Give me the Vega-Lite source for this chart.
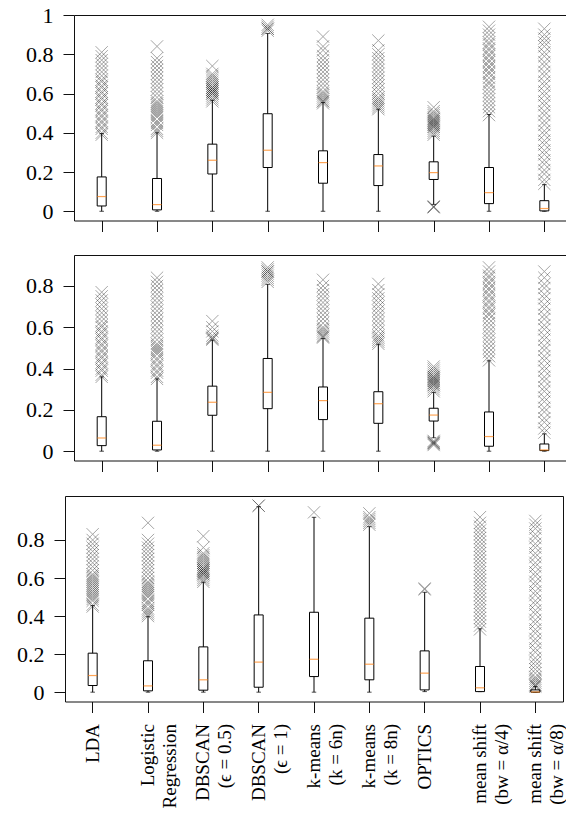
{
"$schema":"https://vega.github.io/schema/vega-lite/v6.json",
"padding":{"top":4,"left":16,"right":0,"bottom":0},
"spacing":23,
"datasets":{
"box":[
{"p":1,"m":"LDA","lo":0,"q1":0.027,"med":0.075,"q3":0.175,"hi":0.396},
{"p":1,"m":"LR","lo":0,"q1":0.007,"med":0.034,"q3":0.167,"hi":0.40},
{"p":1,"m":"DB05","lo":0,"q1":0.19,"med":0.26,"q3":0.342,"hi":0.566},
{"p":1,"m":"DB1","lo":0,"q1":0.223,"med":0.311,"q3":0.497,"hi":0.906},
{"p":1,"m":"KM6","lo":0,"q1":0.143,"med":0.248,"q3":0.308,"hi":0.554},
{"p":1,"m":"KM8","lo":0,"q1":0.131,"med":0.231,"q3":0.289,"hi":0.52},
{"p":1,"m":"OPT","lo":0.035,"q1":0.162,"med":0.197,"q3":0.252,"hi":0.383},
{"p":1,"m":"MS4","lo":0,"q1":0.039,"med":0.095,"q3":0.223,"hi":0.493},
{"p":1,"m":"MS8","lo":0,"q1":0.002,"med":0.014,"q3":0.054,"hi":0.136},
{"p":2,"m":"LDA","lo":0,"q1":0.027,"med":0.064,"q3":0.167,"hi":0.36},
{"p":2,"m":"LR","lo":0,"q1":0.006,"med":0.029,"q3":0.145,"hi":0.35},
{"p":2,"m":"DB05","lo":0,"q1":0.174,"med":0.237,"q3":0.315,"hi":0.538},
{"p":2,"m":"DB1","lo":0,"q1":0.206,"med":0.285,"q3":0.449,"hi":0.808},
{"p":2,"m":"KM6","lo":0,"q1":0.153,"med":0.245,"q3":0.311,"hi":0.546},
{"p":2,"m":"KM8","lo":0,"q1":0.135,"med":0.23,"q3":0.288,"hi":0.518},
{"p":2,"m":"OPT","lo":0.065,"q1":0.146,"med":0.175,"q3":0.208,"hi":0.285},
{"p":2,"m":"MS4","lo":0,"q1":0.024,"med":0.071,"q3":0.19,"hi":0.438},
{"p":2,"m":"MS8","lo":0,"q1":0.003,"med":0.006,"q3":0.035,"hi":0.084},
{"p":3,"m":"LDA","lo":0,"q1":0.035,"med":0.0875,"q3":0.205,"hi":0.455},
{"p":3,"m":"LR","lo":0,"q1":0.007,"med":0.033,"q3":0.165,"hi":0.397},
{"p":3,"m":"DB05","lo":0,"q1":0.0105,"med":0.065,"q3":0.238,"hi":0.578},
{"p":3,"m":"DB1","lo":0,"q1":0.026,"med":0.158,"q3":0.406,"hi":0.975},
{"p":3,"m":"KM6","lo":0,"q1":0.082,"med":0.173,"q3":0.42,"hi":0.919},
{"p":3,"m":"KM8","lo":0,"q1":0.065,"med":0.147,"q3":0.389,"hi":0.87},
{"p":3,"m":"OPT","lo":0.003,"q1":0.012,"med":0.1,"q3":0.217,"hi":0.525},
{"p":3,"m":"MS4","lo":0.003,"q1":0.003,"med":0.023,"q3":0.135,"hi":0.333},
{"p":3,"m":"MS8","lo":0,"q1":0,"med":0.001,"q3":0.012,"hi":0.03}
],
"out":[
{"p":1,"m":"LDA","v":0.39},{"p":1,"m":"LDA","v":0.40},{"p":1,"m":"LDA","v":0.42},{"p":1,"m":"LDA","v":0.43},{"p":1,"m":"LDA","v":0.45},{"p":1,"m":"LDA","v":0.46},{"p":1,"m":"LDA","v":0.48},{"p":1,"m":"LDA","v":0.49},{"p":1,"m":"LDA","v":0.51},{"p":1,"m":"LDA","v":0.52},{"p":1,"m":"LDA","v":0.54},{"p":1,"m":"LDA","v":0.55},{"p":1,"m":"LDA","v":0.57},{"p":1,"m":"LDA","v":0.58},{"p":1,"m":"LDA","v":0.60},{"p":1,"m":"LDA","v":0.61},{"p":1,"m":"LDA","v":0.63},{"p":1,"m":"LDA","v":0.64},{"p":1,"m":"LDA","v":0.66},{"p":1,"m":"LDA","v":0.67},{"p":1,"m":"LDA","v":0.69},{"p":1,"m":"LDA","v":0.71},{"p":1,"m":"LDA","v":0.73},{"p":1,"m":"LDA","v":0.75},{"p":1,"m":"LDA","v":0.77},{"p":1,"m":"LDA","v":0.79},{"p":1,"m":"LDA","v":0.81},
{"p":1,"m":"LR","v":0.40},{"p":1,"m":"LR","v":0.41},{"p":1,"m":"LR","v":0.42},{"p":1,"m":"LR","v":0.44},{"p":1,"m":"LR","v":0.45},{"p":1,"m":"LR","v":0.46},{"p":1,"m":"LR","v":0.48},{"p":1,"m":"LR","v":0.49},{"p":1,"m":"LR","v":0.50},{"p":1,"m":"LR","v":0.51},{"p":1,"m":"LR","v":0.52},{"p":1,"m":"LR","v":0.53},{"p":1,"m":"LR","v":0.54},{"p":1,"m":"LR","v":0.55},{"p":1,"m":"LR","v":0.56},{"p":1,"m":"LR","v":0.58},{"p":1,"m":"LR","v":0.60},{"p":1,"m":"LR","v":0.62},{"p":1,"m":"LR","v":0.64},{"p":1,"m":"LR","v":0.66},{"p":1,"m":"LR","v":0.68},{"p":1,"m":"LR","v":0.70},{"p":1,"m":"LR","v":0.72},{"p":1,"m":"LR","v":0.74},{"p":1,"m":"LR","v":0.76},{"p":1,"m":"LR","v":0.78},{"p":1,"m":"LR","v":0.84},
{"p":1,"m":"DB05","v":0.56},{"p":1,"m":"DB05","v":0.57},{"p":1,"m":"DB05","v":0.58},{"p":1,"m":"DB05","v":0.59},{"p":1,"m":"DB05","v":0.60},{"p":1,"m":"DB05","v":0.60},{"p":1,"m":"DB05","v":0.61},{"p":1,"m":"DB05","v":0.61},{"p":1,"m":"DB05","v":0.62},{"p":1,"m":"DB05","v":0.62},{"p":1,"m":"DB05","v":0.63},{"p":1,"m":"DB05","v":0.63},{"p":1,"m":"DB05","v":0.64},{"p":1,"m":"DB05","v":0.65},{"p":1,"m":"DB05","v":0.66},{"p":1,"m":"DB05","v":0.67},{"p":1,"m":"DB05","v":0.68},{"p":1,"m":"DB05","v":0.69},{"p":1,"m":"DB05","v":0.70},{"p":1,"m":"DB05","v":0.74},
{"p":1,"m":"DB1","v":0.92},{"p":1,"m":"DB1","v":0.93},{"p":1,"m":"DB1","v":0.93},{"p":1,"m":"DB1","v":0.94},{"p":1,"m":"DB1","v":0.95},
{"p":1,"m":"KM6","v":0.55},{"p":1,"m":"KM6","v":0.56},{"p":1,"m":"KM6","v":0.56},{"p":1,"m":"KM6","v":0.57},{"p":1,"m":"KM6","v":0.58},{"p":1,"m":"KM6","v":0.59},{"p":1,"m":"KM6","v":0.60},{"p":1,"m":"KM6","v":0.61},{"p":1,"m":"KM6","v":0.63},{"p":1,"m":"KM6","v":0.65},{"p":1,"m":"KM6","v":0.67},{"p":1,"m":"KM6","v":0.69},{"p":1,"m":"KM6","v":0.71},{"p":1,"m":"KM6","v":0.73},{"p":1,"m":"KM6","v":0.75},{"p":1,"m":"KM6","v":0.77},{"p":1,"m":"KM6","v":0.79},{"p":1,"m":"KM6","v":0.82},{"p":1,"m":"KM6","v":0.84},{"p":1,"m":"KM6","v":0.89},
{"p":1,"m":"KM8","v":0.52},{"p":1,"m":"KM8","v":0.53},{"p":1,"m":"KM8","v":0.54},{"p":1,"m":"KM8","v":0.55},{"p":1,"m":"KM8","v":0.56},{"p":1,"m":"KM8","v":0.57},{"p":1,"m":"KM8","v":0.58},{"p":1,"m":"KM8","v":0.60},{"p":1,"m":"KM8","v":0.62},{"p":1,"m":"KM8","v":0.64},{"p":1,"m":"KM8","v":0.66},{"p":1,"m":"KM8","v":0.68},{"p":1,"m":"KM8","v":0.70},{"p":1,"m":"KM8","v":0.72},{"p":1,"m":"KM8","v":0.74},{"p":1,"m":"KM8","v":0.76},{"p":1,"m":"KM8","v":0.78},{"p":1,"m":"KM8","v":0.80},{"p":1,"m":"KM8","v":0.82},{"p":1,"m":"KM8","v":0.87},
{"p":1,"m":"OPT","v":0.39},{"p":1,"m":"OPT","v":0.40},{"p":1,"m":"OPT","v":0.41},{"p":1,"m":"OPT","v":0.42},{"p":1,"m":"OPT","v":0.43},{"p":1,"m":"OPT","v":0.43},{"p":1,"m":"OPT","v":0.44},{"p":1,"m":"OPT","v":0.44},{"p":1,"m":"OPT","v":0.45},{"p":1,"m":"OPT","v":0.45},{"p":1,"m":"OPT","v":0.46},{"p":1,"m":"OPT","v":0.46},{"p":1,"m":"OPT","v":0.47},{"p":1,"m":"OPT","v":0.47},{"p":1,"m":"OPT","v":0.48},{"p":1,"m":"OPT","v":0.49},{"p":1,"m":"OPT","v":0.50},{"p":1,"m":"OPT","v":0.51},{"p":1,"m":"OPT","v":0.53},{"p":1,"m":"OPT","v":0.022},{"p":1,"m":"OPT","v":0.025},{"p":1,"m":"OPT","v":0.02},
{"p":1,"m":"MS4","v":0.49},{"p":1,"m":"MS4","v":0.51},{"p":1,"m":"MS4","v":0.53},{"p":1,"m":"MS4","v":0.55},{"p":1,"m":"MS4","v":0.57},{"p":1,"m":"MS4","v":0.59},{"p":1,"m":"MS4","v":0.61},{"p":1,"m":"MS4","v":0.63},{"p":1,"m":"MS4","v":0.65},{"p":1,"m":"MS4","v":0.66},{"p":1,"m":"MS4","v":0.68},{"p":1,"m":"MS4","v":0.70},{"p":1,"m":"MS4","v":0.71},{"p":1,"m":"MS4","v":0.73},{"p":1,"m":"MS4","v":0.74},{"p":1,"m":"MS4","v":0.76},{"p":1,"m":"MS4","v":0.77},{"p":1,"m":"MS4","v":0.79},{"p":1,"m":"MS4","v":0.80},{"p":1,"m":"MS4","v":0.82},{"p":1,"m":"MS4","v":0.83},{"p":1,"m":"MS4","v":0.85},{"p":1,"m":"MS4","v":0.86},{"p":1,"m":"MS4","v":0.88},{"p":1,"m":"MS4","v":0.90},{"p":1,"m":"MS4","v":0.92},{"p":1,"m":"MS4","v":0.94},
{"p":1,"m":"MS8","v":0.14},{"p":1,"m":"MS8","v":0.16},{"p":1,"m":"MS8","v":0.19},{"p":1,"m":"MS8","v":0.21},{"p":1,"m":"MS8","v":0.24},{"p":1,"m":"MS8","v":0.26},{"p":1,"m":"MS8","v":0.29},{"p":1,"m":"MS8","v":0.31},{"p":1,"m":"MS8","v":0.34},{"p":1,"m":"MS8","v":0.36},{"p":1,"m":"MS8","v":0.39},{"p":1,"m":"MS8","v":0.41},{"p":1,"m":"MS8","v":0.44},{"p":1,"m":"MS8","v":0.46},{"p":1,"m":"MS8","v":0.49},{"p":1,"m":"MS8","v":0.51},{"p":1,"m":"MS8","v":0.54},{"p":1,"m":"MS8","v":0.56},{"p":1,"m":"MS8","v":0.59},{"p":1,"m":"MS8","v":0.61},{"p":1,"m":"MS8","v":0.64},{"p":1,"m":"MS8","v":0.66},{"p":1,"m":"MS8","v":0.69},{"p":1,"m":"MS8","v":0.71},{"p":1,"m":"MS8","v":0.74},{"p":1,"m":"MS8","v":0.76},{"p":1,"m":"MS8","v":0.79},{"p":1,"m":"MS8","v":0.81},{"p":1,"m":"MS8","v":0.84},{"p":1,"m":"MS8","v":0.86},{"p":1,"m":"MS8","v":0.88},{"p":1,"m":"MS8","v":0.90},{"p":1,"m":"MS8","v":0.93},
{"p":2,"m":"LDA","v":0.36},{"p":2,"m":"LDA","v":0.37},{"p":2,"m":"LDA","v":0.39},{"p":2,"m":"LDA","v":0.40},{"p":2,"m":"LDA","v":0.42},{"p":2,"m":"LDA","v":0.43},{"p":2,"m":"LDA","v":0.45},{"p":2,"m":"LDA","v":0.46},{"p":2,"m":"LDA","v":0.48},{"p":2,"m":"LDA","v":0.49},{"p":2,"m":"LDA","v":0.51},{"p":2,"m":"LDA","v":0.52},{"p":2,"m":"LDA","v":0.54},{"p":2,"m":"LDA","v":0.55},{"p":2,"m":"LDA","v":0.57},{"p":2,"m":"LDA","v":0.58},{"p":2,"m":"LDA","v":0.60},{"p":2,"m":"LDA","v":0.61},{"p":2,"m":"LDA","v":0.63},{"p":2,"m":"LDA","v":0.65},{"p":2,"m":"LDA","v":0.67},{"p":2,"m":"LDA","v":0.69},{"p":2,"m":"LDA","v":0.71},{"p":2,"m":"LDA","v":0.73},{"p":2,"m":"LDA","v":0.75},{"p":2,"m":"LDA","v":0.77},
{"p":2,"m":"LR","v":0.35},{"p":2,"m":"LR","v":0.36},{"p":2,"m":"LR","v":0.38},{"p":2,"m":"LR","v":0.39},{"p":2,"m":"LR","v":0.41},{"p":2,"m":"LR","v":0.42},{"p":2,"m":"LR","v":0.44},{"p":2,"m":"LR","v":0.45},{"p":2,"m":"LR","v":0.47},{"p":2,"m":"LR","v":0.48},{"p":2,"m":"LR","v":0.49},{"p":2,"m":"LR","v":0.50},{"p":2,"m":"LR","v":0.51},{"p":2,"m":"LR","v":0.52},{"p":2,"m":"LR","v":0.54},{"p":2,"m":"LR","v":0.56},{"p":2,"m":"LR","v":0.58},{"p":2,"m":"LR","v":0.60},{"p":2,"m":"LR","v":0.62},{"p":2,"m":"LR","v":0.64},{"p":2,"m":"LR","v":0.66},{"p":2,"m":"LR","v":0.68},{"p":2,"m":"LR","v":0.70},{"p":2,"m":"LR","v":0.72},{"p":2,"m":"LR","v":0.74},{"p":2,"m":"LR","v":0.76},{"p":2,"m":"LR","v":0.78},{"p":2,"m":"LR","v":0.80},{"p":2,"m":"LR","v":0.82},{"p":2,"m":"LR","v":0.84},
{"p":2,"m":"DB05","v":0.54},{"p":2,"m":"DB05","v":0.545},{"p":2,"m":"DB05","v":0.55},{"p":2,"m":"DB05","v":0.56},{"p":2,"m":"DB05","v":0.58},{"p":2,"m":"DB05","v":0.60},{"p":2,"m":"DB05","v":0.63},
{"p":2,"m":"DB1","v":0.82},{"p":2,"m":"DB1","v":0.83},{"p":2,"m":"DB1","v":0.84},{"p":2,"m":"DB1","v":0.85},{"p":2,"m":"DB1","v":0.86},{"p":2,"m":"DB1","v":0.87},{"p":2,"m":"DB1","v":0.87},{"p":2,"m":"DB1","v":0.88},{"p":2,"m":"DB1","v":0.89},
{"p":2,"m":"KM6","v":0.55},{"p":2,"m":"KM6","v":0.555},{"p":2,"m":"KM6","v":0.56},{"p":2,"m":"KM6","v":0.57},{"p":2,"m":"KM6","v":0.58},{"p":2,"m":"KM6","v":0.59},{"p":2,"m":"KM6","v":0.60},{"p":2,"m":"KM6","v":0.62},{"p":2,"m":"KM6","v":0.64},{"p":2,"m":"KM6","v":0.66},{"p":2,"m":"KM6","v":0.68},{"p":2,"m":"KM6","v":0.70},{"p":2,"m":"KM6","v":0.72},{"p":2,"m":"KM6","v":0.74},{"p":2,"m":"KM6","v":0.76},{"p":2,"m":"KM6","v":0.78},{"p":2,"m":"KM6","v":0.80},{"p":2,"m":"KM6","v":0.83},
{"p":2,"m":"KM8","v":0.52},{"p":2,"m":"KM8","v":0.53},{"p":2,"m":"KM8","v":0.54},{"p":2,"m":"KM8","v":0.55},{"p":2,"m":"KM8","v":0.56},{"p":2,"m":"KM8","v":0.58},{"p":2,"m":"KM8","v":0.60},{"p":2,"m":"KM8","v":0.62},{"p":2,"m":"KM8","v":0.64},{"p":2,"m":"KM8","v":0.66},{"p":2,"m":"KM8","v":0.68},{"p":2,"m":"KM8","v":0.70},{"p":2,"m":"KM8","v":0.72},{"p":2,"m":"KM8","v":0.74},{"p":2,"m":"KM8","v":0.76},{"p":2,"m":"KM8","v":0.78},{"p":2,"m":"KM8","v":0.81},
{"p":2,"m":"OPT","v":0.29},{"p":2,"m":"OPT","v":0.30},{"p":2,"m":"OPT","v":0.31},{"p":2,"m":"OPT","v":0.32},{"p":2,"m":"OPT","v":0.32},{"p":2,"m":"OPT","v":0.33},{"p":2,"m":"OPT","v":0.33},{"p":2,"m":"OPT","v":0.34},{"p":2,"m":"OPT","v":0.34},{"p":2,"m":"OPT","v":0.35},{"p":2,"m":"OPT","v":0.35},{"p":2,"m":"OPT","v":0.36},{"p":2,"m":"OPT","v":0.36},{"p":2,"m":"OPT","v":0.37},{"p":2,"m":"OPT","v":0.38},{"p":2,"m":"OPT","v":0.39},{"p":2,"m":"OPT","v":0.40},{"p":2,"m":"OPT","v":0.41},{"p":2,"m":"OPT","v":0.03},{"p":2,"m":"OPT","v":0.035},{"p":2,"m":"OPT","v":0.04},{"p":2,"m":"OPT","v":0.04},{"p":2,"m":"OPT","v":0.045},{"p":2,"m":"OPT","v":0.05},
{"p":2,"m":"MS4","v":0.44},{"p":2,"m":"MS4","v":0.46},{"p":2,"m":"MS4","v":0.48},{"p":2,"m":"MS4","v":0.50},{"p":2,"m":"MS4","v":0.52},{"p":2,"m":"MS4","v":0.54},{"p":2,"m":"MS4","v":0.56},{"p":2,"m":"MS4","v":0.58},{"p":2,"m":"MS4","v":0.60},{"p":2,"m":"MS4","v":0.62},{"p":2,"m":"MS4","v":0.64},{"p":2,"m":"MS4","v":0.66},{"p":2,"m":"MS4","v":0.67},{"p":2,"m":"MS4","v":0.69},{"p":2,"m":"MS4","v":0.70},{"p":2,"m":"MS4","v":0.72},{"p":2,"m":"MS4","v":0.73},{"p":2,"m":"MS4","v":0.75},{"p":2,"m":"MS4","v":0.76},{"p":2,"m":"MS4","v":0.78},{"p":2,"m":"MS4","v":0.79},{"p":2,"m":"MS4","v":0.81},{"p":2,"m":"MS4","v":0.82},{"p":2,"m":"MS4","v":0.84},{"p":2,"m":"MS4","v":0.85},{"p":2,"m":"MS4","v":0.87},{"p":2,"m":"MS4","v":0.89},
{"p":2,"m":"MS8","v":0.09},{"p":2,"m":"MS8","v":0.11},{"p":2,"m":"MS8","v":0.14},{"p":2,"m":"MS8","v":0.16},{"p":2,"m":"MS8","v":0.19},{"p":2,"m":"MS8","v":0.21},{"p":2,"m":"MS8","v":0.24},{"p":2,"m":"MS8","v":0.26},{"p":2,"m":"MS8","v":0.29},{"p":2,"m":"MS8","v":0.31},{"p":2,"m":"MS8","v":0.34},{"p":2,"m":"MS8","v":0.36},{"p":2,"m":"MS8","v":0.39},{"p":2,"m":"MS8","v":0.41},{"p":2,"m":"MS8","v":0.44},{"p":2,"m":"MS8","v":0.46},{"p":2,"m":"MS8","v":0.49},{"p":2,"m":"MS8","v":0.51},{"p":2,"m":"MS8","v":0.54},{"p":2,"m":"MS8","v":0.56},{"p":2,"m":"MS8","v":0.59},{"p":2,"m":"MS8","v":0.61},{"p":2,"m":"MS8","v":0.64},{"p":2,"m":"MS8","v":0.66},{"p":2,"m":"MS8","v":0.69},{"p":2,"m":"MS8","v":0.71},{"p":2,"m":"MS8","v":0.74},{"p":2,"m":"MS8","v":0.76},{"p":2,"m":"MS8","v":0.79},{"p":2,"m":"MS8","v":0.81},{"p":2,"m":"MS8","v":0.84},{"p":2,"m":"MS8","v":0.87},
{"p":3,"m":"LDA","v":0.45},{"p":3,"m":"LDA","v":0.46},{"p":3,"m":"LDA","v":0.48},{"p":3,"m":"LDA","v":0.49},{"p":3,"m":"LDA","v":0.50},{"p":3,"m":"LDA","v":0.51},{"p":3,"m":"LDA","v":0.52},{"p":3,"m":"LDA","v":0.53},{"p":3,"m":"LDA","v":0.54},{"p":3,"m":"LDA","v":0.55},{"p":3,"m":"LDA","v":0.56},{"p":3,"m":"LDA","v":0.57},{"p":3,"m":"LDA","v":0.58},{"p":3,"m":"LDA","v":0.59},{"p":3,"m":"LDA","v":0.60},{"p":3,"m":"LDA","v":0.61},{"p":3,"m":"LDA","v":0.62},{"p":3,"m":"LDA","v":0.64},{"p":3,"m":"LDA","v":0.66},{"p":3,"m":"LDA","v":0.68},{"p":3,"m":"LDA","v":0.70},{"p":3,"m":"LDA","v":0.72},{"p":3,"m":"LDA","v":0.74},{"p":3,"m":"LDA","v":0.76},{"p":3,"m":"LDA","v":0.78},{"p":3,"m":"LDA","v":0.80},{"p":3,"m":"LDA","v":0.83},
{"p":3,"m":"LR","v":0.40},{"p":3,"m":"LR","v":0.41},{"p":3,"m":"LR","v":0.42},{"p":3,"m":"LR","v":0.43},{"p":3,"m":"LR","v":0.44},{"p":3,"m":"LR","v":0.46},{"p":3,"m":"LR","v":0.47},{"p":3,"m":"LR","v":0.48},{"p":3,"m":"LR","v":0.50},{"p":3,"m":"LR","v":0.51},{"p":3,"m":"LR","v":0.52},{"p":3,"m":"LR","v":0.53},{"p":3,"m":"LR","v":0.54},{"p":3,"m":"LR","v":0.55},{"p":3,"m":"LR","v":0.56},{"p":3,"m":"LR","v":0.57},{"p":3,"m":"LR","v":0.58},{"p":3,"m":"LR","v":0.60},{"p":3,"m":"LR","v":0.62},{"p":3,"m":"LR","v":0.64},{"p":3,"m":"LR","v":0.66},{"p":3,"m":"LR","v":0.68},{"p":3,"m":"LR","v":0.70},{"p":3,"m":"LR","v":0.72},{"p":3,"m":"LR","v":0.74},{"p":3,"m":"LR","v":0.76},{"p":3,"m":"LR","v":0.78},{"p":3,"m":"LR","v":0.80},{"p":3,"m":"LR","v":0.89},
{"p":3,"m":"DB05","v":0.58},{"p":3,"m":"DB05","v":0.59},{"p":3,"m":"DB05","v":0.60},{"p":3,"m":"DB05","v":0.61},{"p":3,"m":"DB05","v":0.62},{"p":3,"m":"DB05","v":0.62},{"p":3,"m":"DB05","v":0.63},{"p":3,"m":"DB05","v":0.63},{"p":3,"m":"DB05","v":0.64},{"p":3,"m":"DB05","v":0.64},{"p":3,"m":"DB05","v":0.65},{"p":3,"m":"DB05","v":0.65},{"p":3,"m":"DB05","v":0.66},{"p":3,"m":"DB05","v":0.67},{"p":3,"m":"DB05","v":0.68},{"p":3,"m":"DB05","v":0.69},{"p":3,"m":"DB05","v":0.70},{"p":3,"m":"DB05","v":0.71},{"p":3,"m":"DB05","v":0.72},{"p":3,"m":"DB05","v":0.73},{"p":3,"m":"DB05","v":0.76},{"p":3,"m":"DB05","v":0.82},
{"p":3,"m":"DB1","v":0.98},{"p":3,"m":"DB1","v":0.98},
{"p":3,"m":"KM6","v":0.945},
{"p":3,"m":"KM8","v":0.88},{"p":3,"m":"KM8","v":0.89},{"p":3,"m":"KM8","v":0.90},{"p":3,"m":"KM8","v":0.91},{"p":3,"m":"KM8","v":0.92},{"p":3,"m":"KM8","v":0.94},
{"p":3,"m":"OPT","v":0.54},{"p":3,"m":"OPT","v":0.545},
{"p":3,"m":"MS4","v":0.33},{"p":3,"m":"MS4","v":0.35},{"p":3,"m":"MS4","v":0.37},{"p":3,"m":"MS4","v":0.39},{"p":3,"m":"MS4","v":0.41},{"p":3,"m":"MS4","v":0.43},{"p":3,"m":"MS4","v":0.45},{"p":3,"m":"MS4","v":0.47},{"p":3,"m":"MS4","v":0.49},{"p":3,"m":"MS4","v":0.51},{"p":3,"m":"MS4","v":0.53},{"p":3,"m":"MS4","v":0.55},{"p":3,"m":"MS4","v":0.57},{"p":3,"m":"MS4","v":0.59},{"p":3,"m":"MS4","v":0.61},{"p":3,"m":"MS4","v":0.63},{"p":3,"m":"MS4","v":0.65},{"p":3,"m":"MS4","v":0.67},{"p":3,"m":"MS4","v":0.69},{"p":3,"m":"MS4","v":0.71},{"p":3,"m":"MS4","v":0.73},{"p":3,"m":"MS4","v":0.75},{"p":3,"m":"MS4","v":0.77},{"p":3,"m":"MS4","v":0.79},{"p":3,"m":"MS4","v":0.81},{"p":3,"m":"MS4","v":0.83},{"p":3,"m":"MS4","v":0.85},{"p":3,"m":"MS4","v":0.87},{"p":3,"m":"MS4","v":0.89},{"p":3,"m":"MS4","v":0.92},
{"p":3,"m":"MS8","v":0.03},{"p":3,"m":"MS8","v":0.035},{"p":3,"m":"MS8","v":0.04},{"p":3,"m":"MS8","v":0.05},{"p":3,"m":"MS8","v":0.06},{"p":3,"m":"MS8","v":0.07},{"p":3,"m":"MS8","v":0.08},{"p":3,"m":"MS8","v":0.10},{"p":3,"m":"MS8","v":0.12},{"p":3,"m":"MS8","v":0.14},{"p":3,"m":"MS8","v":0.16},{"p":3,"m":"MS8","v":0.18},{"p":3,"m":"MS8","v":0.21},{"p":3,"m":"MS8","v":0.23},{"p":3,"m":"MS8","v":0.26},{"p":3,"m":"MS8","v":0.28},{"p":3,"m":"MS8","v":0.31},{"p":3,"m":"MS8","v":0.33},{"p":3,"m":"MS8","v":0.36},{"p":3,"m":"MS8","v":0.38},{"p":3,"m":"MS8","v":0.41},{"p":3,"m":"MS8","v":0.43},{"p":3,"m":"MS8","v":0.46},{"p":3,"m":"MS8","v":0.48},{"p":3,"m":"MS8","v":0.51},{"p":3,"m":"MS8","v":0.53},{"p":3,"m":"MS8","v":0.56},{"p":3,"m":"MS8","v":0.58},{"p":3,"m":"MS8","v":0.61},{"p":3,"m":"MS8","v":0.63},{"p":3,"m":"MS8","v":0.66},{"p":3,"m":"MS8","v":0.68},{"p":3,"m":"MS8","v":0.71},{"p":3,"m":"MS8","v":0.73},{"p":3,"m":"MS8","v":0.76},{"p":3,"m":"MS8","v":0.78},{"p":3,"m":"MS8","v":0.81},{"p":3,"m":"MS8","v":0.83},{"p":3,"m":"MS8","v":0.86},{"p":3,"m":"MS8","v":0.88},{"p":3,"m":"MS8","v":0.90}
]
},
"vconcat":[
{
"width":501,"height":205.5,
"view":{"stroke":null},
"resolve":{"axis":{"x":"independent"}},
"layer":[
{"data":{"name":"box"},"transform":[{"filter":"datum.p==1"}],"mark":{"type":"rule","color":"black","strokeWidth":1},
 "encoding":{
  "x":{"field":"m","type":"nominal","scale":{"type":"point","domain":["LDA","LR","DB05","DB1","KM6","KM8","OPT","MS4","MS8"],"range":[9,501],"padding":0.446,"align":0.561},"axis":{"orient":"bottom","labels":false,"title":null,"tickSize":11,"domain":true}},
  "y":{"field":"lo","type":"quantitative","title":null,"scale":{"domain":[-0.047,1.0],"nice":false,"zero":false},"axis":{"values":[0,0.2,0.4,0.6,0.8,1],"format":"~g","title":null,"offset":-9,"domain":true}},"y2":{"field":"hi"}}},
{"data":{"name":"box"},"transform":[{"filter":"datum.p==1"}],"mark":{"type":"tick","orient":"horizontal","size":4.5,"thickness":1,"color":"black"},
 "encoding":{
  "x":{"field":"m","type":"nominal","scale":{"type":"point","domain":["LDA","LR","DB05","DB1","KM6","KM8","OPT","MS4","MS8"],"range":[9,501],"padding":0.446,"align":0.561},"axis":{"orient":"top","labels":false,"ticks":false,"title":null,"domain":true}},
  "y":{"field":"lo","type":"quantitative","title":null,"scale":{"domain":[-0.047,1.0],"nice":false,"zero":false}}}},
{"data":{"name":"box"},"transform":[{"filter":"datum.p==1"}],"mark":{"type":"tick","orient":"horizontal","size":4.5,"thickness":1,"color":"black"},
 "encoding":{
  "x":{"field":"m","type":"nominal","scale":{"type":"point","domain":["LDA","LR","DB05","DB1","KM6","KM8","OPT","MS4","MS8"],"range":[9,501],"padding":0.446,"align":0.561},"axis":null},
  "y":{"field":"hi","type":"quantitative","title":null,"scale":{"domain":[-0.047,1.0],"nice":false,"zero":false}}}},
{"data":{"name":"box"},"transform":[{"filter":"datum.p==1"}],"mark":{"type":"bar","size":9,"fill":"white","stroke":"black","strokeWidth":1,"opacity":1},
 "encoding":{
  "x":{"field":"m","type":"nominal","scale":{"type":"point","domain":["LDA","LR","DB05","DB1","KM6","KM8","OPT","MS4","MS8"],"range":[9,501],"padding":0.446,"align":0.561},"axis":null},
  "y":{"field":"q1","type":"quantitative","title":null,"scale":{"domain":[-0.047,1.0],"nice":false,"zero":false}},"y2":{"field":"q3"}}},
{"data":{"name":"box"},"transform":[{"filter":"datum.p==1"}],"mark":{"type":"tick","orient":"horizontal","size":9,"thickness":1.2,"color":"#ff7f0e"},
 "encoding":{
  "x":{"field":"m","type":"nominal","scale":{"type":"point","domain":["LDA","LR","DB05","DB1","KM6","KM8","OPT","MS4","MS8"],"range":[9,501],"padding":0.446,"align":0.561},"axis":null},
  "y":{"field":"med","type":"quantitative","title":null,"scale":{"domain":[-0.047,1.0],"nice":false,"zero":false}}}},
{"data":{"name":"out"},"transform":[{"filter":"datum.p==1"}],"mark":{"type":"point","shape":"M-1,-1L1,1M1,-1L-1,1","size":150,"filled":false,"stroke":"black","strokeWidth":1,"opacity":0.35},
 "encoding":{
  "x":{"field":"m","type":"nominal","scale":{"type":"point","domain":["LDA","LR","DB05","DB1","KM6","KM8","OPT","MS4","MS8"],"range":[9,501],"padding":0.446,"align":0.561},"axis":null},
  "y":{"field":"v","type":"quantitative","title":null,"scale":{"domain":[-0.047,1.0],"nice":false,"zero":false}}}}
]
},
{
"width":501,"height":205.5,
"view":{"stroke":null},
"resolve":{"axis":{"x":"independent"}},
"layer":[
{"data":{"name":"box"},"transform":[{"filter":"datum.p==2"}],"mark":{"type":"rule","color":"black","strokeWidth":1},
 "encoding":{
  "x":{"field":"m","type":"nominal","scale":{"type":"point","domain":["LDA","LR","DB05","DB1","KM6","KM8","OPT","MS4","MS8"],"range":[9,501],"padding":0.446,"align":0.561},"axis":{"orient":"bottom","labels":false,"title":null,"tickSize":11,"domain":true}},
  "y":{"field":"lo","type":"quantitative","title":null,"scale":{"domain":[-0.045,0.95],"nice":false,"zero":false},"axis":{"values":[0,0.2,0.4,0.6,0.8],"format":"~g","title":null,"offset":-9,"domain":true}},"y2":{"field":"hi"}}},
{"data":{"name":"box"},"transform":[{"filter":"datum.p==2"}],"mark":{"type":"tick","orient":"horizontal","size":4.5,"thickness":1,"color":"black"},
 "encoding":{
  "x":{"field":"m","type":"nominal","scale":{"type":"point","domain":["LDA","LR","DB05","DB1","KM6","KM8","OPT","MS4","MS8"],"range":[9,501],"padding":0.446,"align":0.561},"axis":{"orient":"top","labels":false,"ticks":false,"title":null,"domain":true}},
  "y":{"field":"lo","type":"quantitative","title":null,"scale":{"domain":[-0.045,0.95],"nice":false,"zero":false}}}},
{"data":{"name":"box"},"transform":[{"filter":"datum.p==2"}],"mark":{"type":"tick","orient":"horizontal","size":4.5,"thickness":1,"color":"black"},
 "encoding":{
  "x":{"field":"m","type":"nominal","scale":{"type":"point","domain":["LDA","LR","DB05","DB1","KM6","KM8","OPT","MS4","MS8"],"range":[9,501],"padding":0.446,"align":0.561},"axis":null},
  "y":{"field":"hi","type":"quantitative","title":null,"scale":{"domain":[-0.045,0.95],"nice":false,"zero":false}}}},
{"data":{"name":"box"},"transform":[{"filter":"datum.p==2"}],"mark":{"type":"bar","size":9,"fill":"white","stroke":"black","strokeWidth":1,"opacity":1},
 "encoding":{
  "x":{"field":"m","type":"nominal","scale":{"type":"point","domain":["LDA","LR","DB05","DB1","KM6","KM8","OPT","MS4","MS8"],"range":[9,501],"padding":0.446,"align":0.561},"axis":null},
  "y":{"field":"q1","type":"quantitative","title":null,"scale":{"domain":[-0.045,0.95],"nice":false,"zero":false}},"y2":{"field":"q3"}}},
{"data":{"name":"box"},"transform":[{"filter":"datum.p==2"}],"mark":{"type":"tick","orient":"horizontal","size":9,"thickness":1.2,"color":"#ff7f0e"},
 "encoding":{
  "x":{"field":"m","type":"nominal","scale":{"type":"point","domain":["LDA","LR","DB05","DB1","KM6","KM8","OPT","MS4","MS8"],"range":[9,501],"padding":0.446,"align":0.561},"axis":null},
  "y":{"field":"med","type":"quantitative","title":null,"scale":{"domain":[-0.045,0.95],"nice":false,"zero":false}}}},
{"data":{"name":"out"},"transform":[{"filter":"datum.p==2"}],"mark":{"type":"point","shape":"M-1,-1L1,1M1,-1L-1,1","size":150,"filled":false,"stroke":"black","strokeWidth":1,"opacity":0.35},
 "encoding":{
  "x":{"field":"m","type":"nominal","scale":{"type":"point","domain":["LDA","LR","DB05","DB1","KM6","KM8","OPT","MS4","MS8"],"range":[9,501],"padding":0.446,"align":0.561},"axis":null},
  "y":{"field":"v","type":"quantitative","title":null,"scale":{"domain":[-0.045,0.95],"nice":false,"zero":false}}}}
]
},
{
"width":498,"height":205.5,
"encoding":{"x":{"field":"m","type":"nominal","scale":{"domain":["LDA","LR","DB05","DB1","KM6","KM8","OPT","MS4","MS8"],"paddingInner":0,"paddingOuter":0},"axis":{"title":null,"tickSize":11,"labelAngle":-90,"labelAlign":"right","labelBaseline":"middle","labelFontSize":19,"labelLineHeight":22,"labelPadding":11,"labelOverlap":false,"labelExpr":"datum.value=='LDA'?['LDA']:datum.value=='LR'?['Logistic','Regression']:datum.value=='DB05'?['DBSCAN','(ϵ = 0.5)']:datum.value=='DB1'?['DBSCAN','(ϵ = 1)']:datum.value=='KM6'?['k-means','(k = 6n)']:datum.value=='KM8'?['k-means','(k = 8n)']:datum.value=='OPT'?['OPTICS']:datum.value=='MS4'?['mean shift','(bw = α/4)']:['mean shift','(bw = α/8)']"}}},
"layer":[
{"data":{"name":"box"},"transform":[{"filter":"datum.p==3"}],"mark":{"type":"rule","color":"black","strokeWidth":1},
 "encoding":{"y":{"field":"lo","type":"quantitative","title":null,"scale":{"domain":[-0.049,1.031],"nice":false,"zero":false},"axis":{"values":[0,0.2,0.4,0.6,0.8],"format":"~g","title":null}},"y2":{"field":"hi"}}},
{"data":{"name":"box"},"transform":[{"filter":"datum.p==3"}],"mark":{"type":"tick","orient":"horizontal","size":4.5,"thickness":1,"color":"black"},
 "encoding":{"y":{"field":"lo","type":"quantitative","title":null,"scale":{"domain":[-0.049,1.031],"nice":false,"zero":false}}}},
{"data":{"name":"box"},"transform":[{"filter":"datum.p==3"}],"mark":{"type":"tick","orient":"horizontal","size":4.5,"thickness":1,"color":"black"},
 "encoding":{"y":{"field":"hi","type":"quantitative","title":null,"scale":{"domain":[-0.049,1.031],"nice":false,"zero":false}}}},
{"data":{"name":"box"},"transform":[{"filter":"datum.p==3"}],"mark":{"type":"bar","size":9,"fill":"white","stroke":"black","strokeWidth":1,"opacity":1},
 "encoding":{"y":{"field":"q1","type":"quantitative","title":null,"scale":{"domain":[-0.049,1.031],"nice":false,"zero":false}},"y2":{"field":"q3"}}},
{"data":{"name":"box"},"transform":[{"filter":"datum.p==3"}],"mark":{"type":"tick","orient":"horizontal","size":9,"thickness":1.2,"color":"#ff7f0e"},
 "encoding":{"y":{"field":"med","type":"quantitative","title":null,"scale":{"domain":[-0.049,1.031],"nice":false,"zero":false}}}},
{"data":{"name":"out"},"transform":[{"filter":"datum.p==3"}],"mark":{"type":"point","shape":"M-1,-1L1,1M1,-1L-1,1","size":150,"filled":false,"stroke":"black","strokeWidth":1,"opacity":0.35},
 "encoding":{"y":{"field":"v","type":"quantitative","title":null,"scale":{"domain":[-0.049,1.031],"nice":false,"zero":false}}}}
]
}
],
"config":{
"font":"Liberation Serif",
"view":{"stroke":"#111","strokeWidth":1},
"axis":{"grid":false,"domain":false,"domainColor":"#111","domainWidth":1,"tickColor":"#111","tickWidth":1,"tickSize":11,"labelFont":"Liberation Serif","labelColor":"black","labelFontSize":22,"labelPadding":10,"titleFont":"Liberation Serif"}
}
}
